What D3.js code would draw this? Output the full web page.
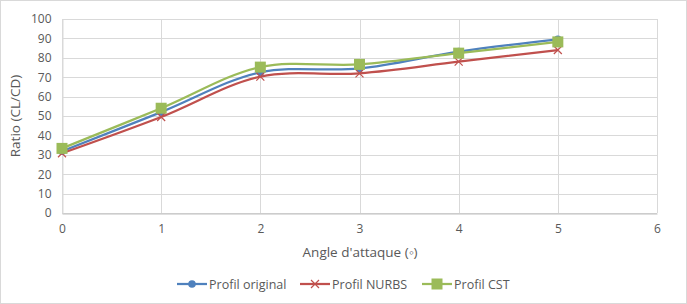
<!DOCTYPE html>
<html><head><meta charset="utf-8">
<script src="https://cdn.jsdelivr.net/npm/d3@7"></script>
<style>body{margin:0;background:#fff}svg{display:block}text{font-family:"Open Sans","Noto Sans",sans-serif;fill:#595959}</style>
</head><body>
<script>
const angles = [0, 1, 2, 3, 4, 5];
const original = [31.8, 52, 72.5, 74.5, 83.2, 89.5];
const nurbs = [30.8, 49.5, 70.3, 72, 78, 84];
const cst = [33.3, 54, 75.2, 76.6, 82.4, 88.2];
const xTicks = [0, 1, 2, 3, 4, 5, 6];
const yTicks = [0, 10, 20, 30, 40, 50, 60, 70, 80, 90, 100];
const seriesNames = ["Profil original", "Profil NURBS", "Profil CST"];
const colors = ["#4F81BD", "#C0504D", "#9BBB59"];
const markers = ["circle", "x", "square"];

const W = 687, H = 304;
const svg = d3.select("body").append("svg").attr("width", W).attr("height", H);
svg.append("rect").attr("x", 0.5).attr("y", 0.5).attr("width", W - 1).attr("height", H - 1)
  .attr("fill", "#fff").attr("stroke", "#d9d9d9");

const x = d3.scaleLinear().domain([0, 6]).range([62, 657]);
const y = d3.scaleLinear().domain([0, 100]).range([213, 19]);

const g = svg.append("g");
g.selectAll(".hg").data(yTicks).join("line")
  .attr("x1", x(0)).attr("x2", x(6)).attr("y1", d => Math.round(y(d)) + 0.5).attr("y2", d => Math.round(y(d)) + 0.5)
  .attr("stroke", "#d9d9d9");
g.selectAll(".vg").data(xTicks).join("line")
  .attr("y1", y(0)).attr("y2", y(100)).attr("x1", d => Math.round(x(d)) + 0.5).attr("x2", d => Math.round(x(d)) + 0.5)
  .attr("stroke", "#d9d9d9");

const xAxis = svg.append("g").attr("transform", `translate(0,${Math.round(y(0)) + 0.5})`)
  .call(d3.axisBottom(x).tickValues(xTicks).tickSize(0).tickPadding(11).tickFormat(d3.format("d")));
xAxis.select(".domain").attr("stroke", "#bfbfbf");
xAxis.selectAll("text").attr("font-size", 12).style("fill", "#595959");

const yAxis = svg.append("g").attr("transform", `translate(${Math.round(x(0)) + 0.5},0)`)
  .call(d3.axisLeft(y).tickValues(yTicks).tickSize(0).tickPadding(11));
yAxis.select(".domain").attr("stroke", "#d9d9d9");
yAxis.selectAll("text").attr("font-size", 12).style("fill", "#595959");

svg.append("text").attr("x", 360).attr("y", 257).attr("text-anchor", "middle").attr("font-size", 13.5).text("Angle d'attaque (◦)");
svg.append("text").attr("transform", "translate(20,116) rotate(-90)").attr("text-anchor", "middle").attr("font-size", 13.5).text("Ratio (CL/CD)");

const line = d3.line().x((d, i) => x(angles[i])).y(d => y(d)).curve(d3.curveCatmullRom.alpha(0.5));
const allSeries = [original, nurbs, cst];

function drawMarker(sel, type, color, cx, cy) {
  if (type === "circle") sel.append("circle").attr("cx", cx).attr("cy", cy).attr("r", 3.8).attr("fill", color);
  else if (type === "square") sel.append("rect").attr("x", cx - 5.5).attr("y", cy - 5.5).attr("width", 11).attr("height", 11).attr("fill", color);
  else {
    const s = 4;
    sel.append("path").attr("d", `M${cx - s},${cy - s}L${cx + s},${cy + s}M${cx - s},${cy + s}L${cx + s},${cy - s}`)
      .attr("stroke", color).attr("stroke-width", 1.2).attr("fill", "none");
  }
}

allSeries.forEach((vals, k) => {
  svg.append("path").datum(vals).attr("d", line).attr("fill", "none").attr("stroke", colors[k]).attr("stroke-width", 2.25);
});
allSeries.forEach((vals, k) => {
  const mg = svg.append("g");
  vals.forEach((v, i) => drawMarker(mg, markers[k], colors[k], x(angles[i]), y(v)));
});

const legX = [177, 300, 422];
seriesNames.forEach((name, k) => {
  const lg = svg.append("g");
  lg.append("line").attr("x1", legX[k]).attr("x2", legX[k] + 30).attr("y1", 284).attr("y2", 284)
    .attr("stroke", colors[k]).attr("stroke-width", 2.25);
  drawMarker(lg, markers[k], colors[k], legX[k] + 15, 284);
  lg.append("text").attr("x", legX[k] + 32).attr("y", 288.5).attr("font-size", 12.5).text(name);
});
</script>
</body></html>
